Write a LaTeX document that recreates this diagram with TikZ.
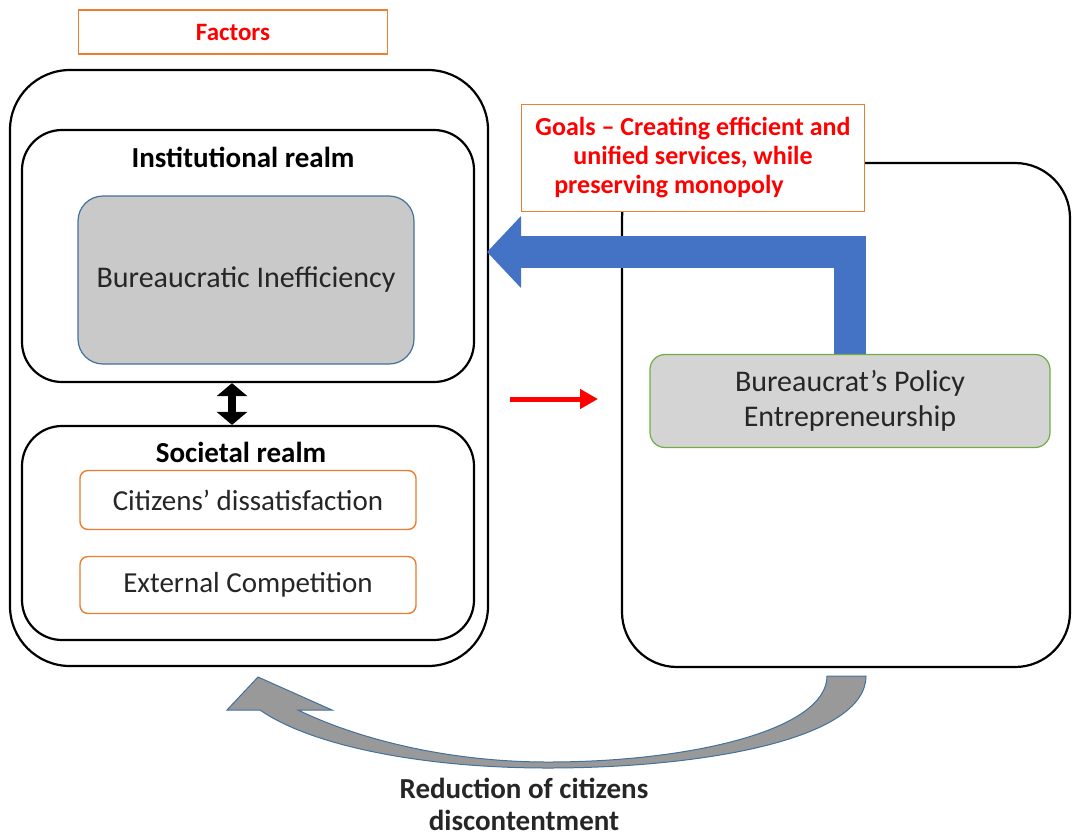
\documentclass[tikz,border=0pt]{standalone}
\usepackage{fontspec}
\setmainfont{Carlito}
\usetikzlibrary{arrows.meta}

\definecolor{factorred}{HTML}{FF0000}
\definecolor{boxorange}{HTML}{ED7D31}
\definecolor{arrowblue}{HTML}{4472C4}
\definecolor{boxgray}{HTML}{C9C9C9}
\definecolor{policygray}{HTML}{D4D4D4}
\definecolor{edgeblue}{HTML}{41719C}
\definecolor{edgegreen}{HTML}{70AD47}
\definecolor{textgray}{HTML}{262626}
\definecolor{curvegray}{HTML}{999999}

\begin{document}
\begin{tikzpicture}[x=1pt,y=-1pt,
  frame node/.style={rectangle,draw=black,line width=2.2pt,rounded corners=#1,inner sep=0pt},
  title node/.style={font=\fontsize{29}{34}\selectfont\bfseries,text=black},
  gray node/.style={rectangle,fill=boxgray,draw=edgeblue,line width=1.2pt,rounded corners=25pt,font=\fontsize{30}{35}\selectfont,text=textgray},
  orange node/.style={rectangle,draw=boxorange,line width=1.4pt,fill=white,font=\fontsize{29}{34}\selectfont,text=textgray},
  red text/.style={text=factorred,font=\fontsize{26}{29}\selectfont\bfseries}]

  \useasboundingbox (0,0) rectangle (1078,836);

  % factors side
  \node[orange node,minimum width=309pt,minimum height=44pt,red text,font=\fontsize{25}{29}\selectfont\bfseries] (factors) at (233,32) {Factors};
  \node[frame node=60pt,minimum width=478pt,minimum height=596pt] (left) at (249,368) {};
  \node[frame node=40pt,minimum width=452pt,minimum height=252pt] (inst) at (248,256) {};
  \node[title node] (insttitle) at (243,157) {Institutional realm};
  \node[gray node,minimum width=336pt,minimum height=168pt] (ineff) at (246,280) {Bureaucratic Inefficiency};
  \node[frame node=40pt,minimum width=452pt,minimum height=214pt] (soc) at (248,533) {};
  \node[title node] (soctitle) at (241,452) {Societal realm};
  \node[orange node,rounded corners=8pt,minimum width=336pt,minimum height=59pt] (diss) at (248,500) {Citizens' dissatisfaction};
  \node[orange node,rounded corners=8pt,minimum width=336pt,minimum height=57pt] (comp) at (248,585) {External Competition};

  % policy side
  \node[frame node=55pt,minimum width=448pt,minimum height=504pt] (right) at (846,415) {};
  \node[orange node,minimum width=343pt,minimum height=107pt,align=center,red text] (goals) at (693,158)
    {Goals -- Creating efficient and\\unified services, while\\preserving monopoly\hspace*{48pt}};

  \coordinate (goaltip) at (487,252);
  \draw[line width=32pt,arrowblue,-{Triangle[length=34pt,width=70pt]}] (850,354) |- (goaltip);

  \node[gray node,fill=policygray,draw=edgegreen,rounded corners=15pt,minimum width=400pt,minimum height=93pt,align=center] (policy) at (850,401) {Bureaucrat's Policy\\Entrepreneurship};

  \draw[line width=8pt,{Triangle[length=13pt,width=30pt]}-{Triangle[length=13pt,width=30pt]}]
    ([xshift=-16pt]inst.south) -- ([xshift=-16pt]soc.north);

  \coordinate (redtail) at (510,399);
  \coordinate (redhead) at (598,399);
  \draw[line width=5pt,factorred,-{Triangle[length=18pt,width=19pt]}] (redtail) -- (redhead);

  % feedback arrow
  \filldraw[fill=curvegray,draw=edgeblue,line width=1pt]
    (827,676) -- (866,676) .. controls (866,740) and (700,768) .. (548,768)
    .. controls (420,768) and (310,745) .. (260,710) -- (227,710) -- (258,677)
    -- (332,710) -- (298,710) .. controls (360,740) and (450,762) .. (548,762)
    .. controls (690,762) and (827,730) .. (827,676) -- cycle;
  \node[font=\fontsize{29}{32}\selectfont\bfseries,text=textgray,align=center,inner sep=0pt] (reduction) at (524,804)
    {Reduction of citizens\\discontentment};

\end{tikzpicture}
\end{document}
